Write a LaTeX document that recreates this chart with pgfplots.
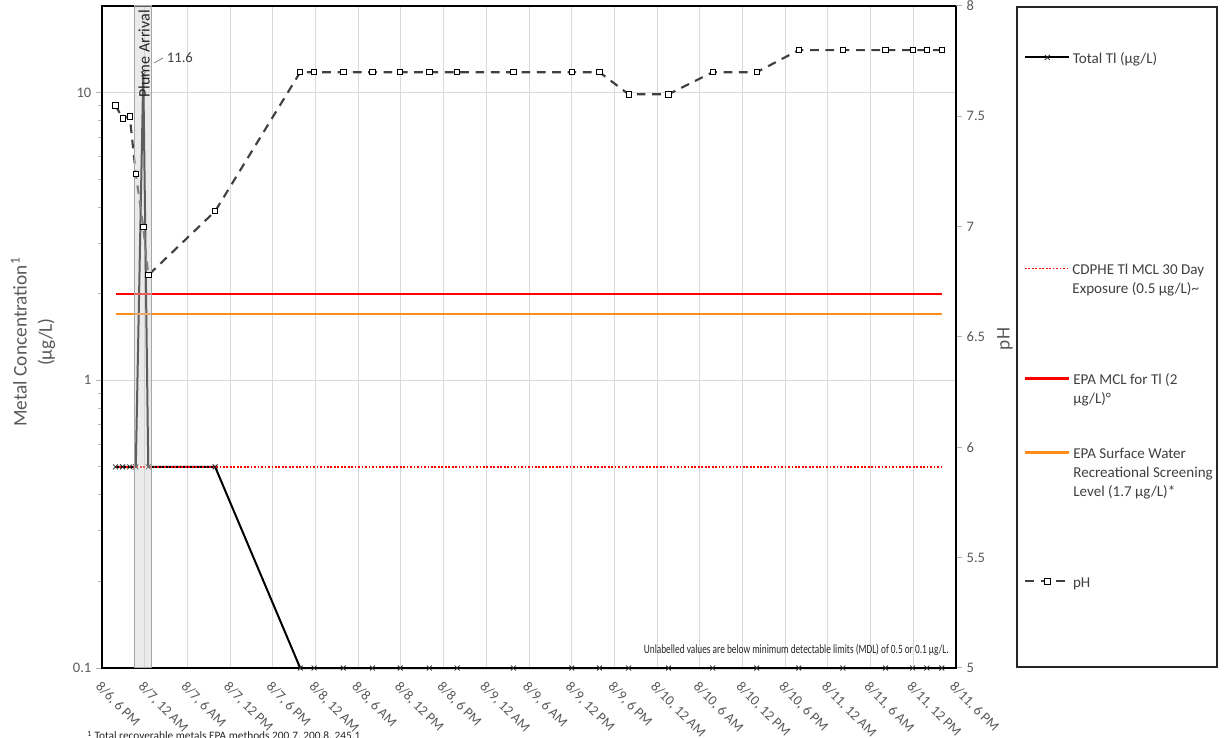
\documentclass[border=0pt]{standalone}
\usepackage{fontspec}
\setmainfont{Carlito}
\usepackage{graphicx}
\usepackage{pgfplots}
\pgfplotsset{compat=1.18}

\definecolor{txtgray}{HTML}{595959}
\definecolor{legtxt}{HTML}{404040}
\definecolor{gridc}{HTML}{D9D9D9}
\definecolor{refred}{HTML}{FF0000}
\definecolor{reforange}{HTML}{FF8C1A}
\definecolor{phgray}{HTML}{404040}
\definecolor{bandfill}{HTML}{D0D0D0}
\definecolor{bandedge}{HTML}{A6A6A6}

\newcommand{\legtext}[1]{\parbox[t]{116pt}{\strut #1}}

\pgfplotsset{
  /pgf/number format/assume math mode=true,
  common/.style={
    scale only axis,
    width=640.5pt, height=496.5pt,
    clip=false,
    xmin=0, xmax=120,
    tick align=outside,
    major tick length=4.5pt,
    tick label style={text=txtgray, font=\fontsize{10.9}{13}\selectfont},
    label style={text=txtgray, font=\fontsize{14.5}{19}\selectfont},
  },
  % one legend row per hidden axis, so each row sits where the original has it
  legrow/.style={
    common, hide axis, ymin=0, ymax=1,
    legend cell align=left,
    legend image code/.code={\draw[mark repeat=2,mark phase=2,##1] plot coordinates {(0pt,0pt) (16.5pt,0pt) (33pt,0pt)};},
    legend style={
      draw=none, fill=none,
      at={(1.0796,#1)}, anchor=north west,
      inner sep=0pt,
      font=\fontsize{11.3}{14.25}\selectfont,
      text=legtxt,
      /tikz/every even column/.append style={column sep=3pt},
    },
  },
  tlstyle/.style={black, line width=1.5pt, mark=x, mark size=2.6pt,
    mark options={solid, black!85, line width=0.6pt}},
  cdphestyle/.style={refred, line width=1.1pt, dash pattern=on 1.3pt off 1.3pt},
  mclstyle/.style={refred, line width=1.8pt},
  swstyle/.style={reforange, line width=1.8pt},
  phstyle/.style={phgray, line width=1.6pt, dash pattern=on 6.5pt off 5pt, mark=square*, mark size=2pt,
    mark options={solid, fill=white, draw=black, line width=0.6pt}},
}

\begin{document}
\begin{tikzpicture}
% x: hours counted from 8/6 6 PM
\begin{axis}[
    common,
    ymode=log,
    ymin=0.1, ymax=20,
    xtick={0,6,12,18,24,30,36,42,48,54,60,66,72,78,84,90,96,102,108,114,120},
    xticklabels={{8/6, 6 PM},{8/7, 12 AM},{8/7, 6 AM},{8/7, 12 PM},{8/7, 6 PM},
      {8/8, 12 AM},{8/8, 6 AM},{8/8, 12 PM},{8/8, 6 PM},
      {8/9, 12 AM},{8/9, 6 AM},{8/9, 12 PM},{8/9, 6 PM},
      {8/10, 12 AM},{8/10, 6 AM},{8/10, 12 PM},{8/10, 6 PM},
      {8/11, 12 AM},{8/11, 6 AM},{8/11, 12 PM},{8/11, 6 PM}},
    xticklabel style={rotate=-45, anchor=north west, font=\fontsize{10.5}{12}\selectfont},
    ytick={0.1,1,10},
    yticklabels={0.1,1,10},
    ytick pos=left,
    xtick style={draw=none},
    ytick style={draw=gray!60, line width=0.75pt},
    xmajorgrids, ymajorgrids,
    major grid style={gridc, line width=0.75pt},
    x axis line style={black, line width=1.6pt},
    y axis line style={black, line width=0.9pt},
    ylabel={Metal Concentration\textsuperscript{1}\\(µg/L)},
    ylabel style={align=center, at={(axis description cs:-0.0808,0.4924)}, anchor=center},
]
\addplot[tlstyle] coordinates {
  (1.9,0.5) (2.9,0.5) (3.9,0.5) (4.75,0.5) (5.8,11.6) (6.5,0.5)
  (15.9,0.5) (27.85,0.1) (29.8,0.1) (33.9,0.1) (38.0,0.1) (41.9,0.1)
  (46.0,0.1) (49.9,0.1) (57.8,0.1) (66.0,0.1) (69.9,0.1) (74.0,0.1)
  (79.6,0.1) (85.8,0.1) (92.0,0.1) (97.9,0.1) (104.1,0.1) (110.1,0.1)
  (113.9,0.1) (115.9,0.1) (118.0,0.1)
};
\addplot[cdphestyle] coordinates {(1.9,0.5) (118.0,0.5)};
\addplot[mclstyle] coordinates {(1.9,2) (118.0,2)};
\addplot[swstyle] coordinates {(1.9,1.7) (118.0,1.7)};
\end{axis}

\begin{axis}[
    common,
    ymin=5, ymax=8,
    axis x line=none,
    axis y line*=right,
    y axis line style={black, line width=0.9pt, -},
    ytick={5,5.5,6,6.5,7,7.5,8},
    ytick style={draw=gray!60, line width=0.75pt},
    ylabel={pH},
    ylabel style={at={(axis description cs:1.0574,0.497)}, anchor=center},
]
\addplot[phstyle] coordinates {
  (1.9,7.55) (2.9,7.49) (3.9,7.50) (4.75,7.24) (5.8,7.0) (6.5,6.78)
  (15.9,7.07) (27.85,7.7) (29.8,7.7) (33.9,7.7) (38.0,7.7) (41.9,7.7)
  (46.0,7.7) (49.9,7.7) (57.8,7.7) (66.0,7.7) (69.9,7.7) (74.0,7.6)
  (79.6,7.6) (85.8,7.7) (92.0,7.7) (97.9,7.8) (104.1,7.8) (110.1,7.8)
  (113.9,7.8) (115.9,7.8) (118.0,7.8)
};
% plume arrival band
\addplot[draw=bandedge, fill=bandfill, fill opacity=0.45, line width=0.75pt] coordinates {
  (4.6,5) (6.95,5) (6.95,8) (4.6,8)
} -- cycle;
\node[rotate=90, anchor=east, inner sep=0pt, font=\fontsize{12}{14}\selectfont, text=black!85]
  at (rel axis cs:0.0492,0.994) {Plume Arrival};
\draw[gray, line width=0.6pt] (rel axis cs:0.0609,0.9139) -- (rel axis cs:0.0714,0.9215);
\node[anchor=west, inner sep=1pt, font=\fontsize{11}{13}\selectfont, text=legtxt]
  at (rel axis cs:0.0741,0.9215) {11.6};
\node[anchor=east, inner sep=0pt, font=\fontsize{9.5}{11}\selectfont, text=black!85]
  at (rel axis cs:0.9918,0.027)
  {\scalebox{0.735}[1]{Unlabelled values are below minimum detectable limits (MDL) of 0.5 or 0.1 µg/L.}};
\end{axis}

% legend rows
\begin{axis}[legrow=0.9383]
\addlegendimage{tlstyle}
\addlegendentry{\legtext{Total Tl (µg/L)}}
\end{axis}
\begin{axis}[legrow=0.6196]
\addlegendimage{cdphestyle}
\addlegendentry{\legtext{CDPHE Tl MCL 30 Day\\Exposure (0.5 µg/L)\textasciitilde}}
\end{axis}
\begin{axis}[legrow=0.4534]
\addlegendimage{mclstyle}
\addlegendentry{\legtext{EPA MCL for Tl (2\\µg/L)°}}
\end{axis}
\begin{axis}[legrow=0.3417]
\addlegendimage{swstyle}
\addlegendentry{\legtext{EPA Surface Water\\Recreational Screening\\Level (1.7 µg/L)*}}
\end{axis}
\begin{axis}[legrow=0.1468]
\addlegendimage{phstyle}
\addlegendentry{\legtext{pH}}
\end{axis}

% legend frame
\draw[black!85, line width=0.9pt] (686.25pt,0.75pt) rectangle (836.25pt,495.75pt);
% footnote, cut by the lower edge as in the original
\node[anchor=base west, inner sep=0pt, font=\fontsize{8.5}{10}\selectfont, text=black!85]
  at (-11.25pt,-54pt) {\textsuperscript{1} Total recoverable metals EPA methods 200.7, 200.8, 245.1};

\pgfresetboundingbox
\useasboundingbox (-76.5pt,-52.5pt) rectangle (842.25pt,501pt);
\end{tikzpicture}
\end{document}
